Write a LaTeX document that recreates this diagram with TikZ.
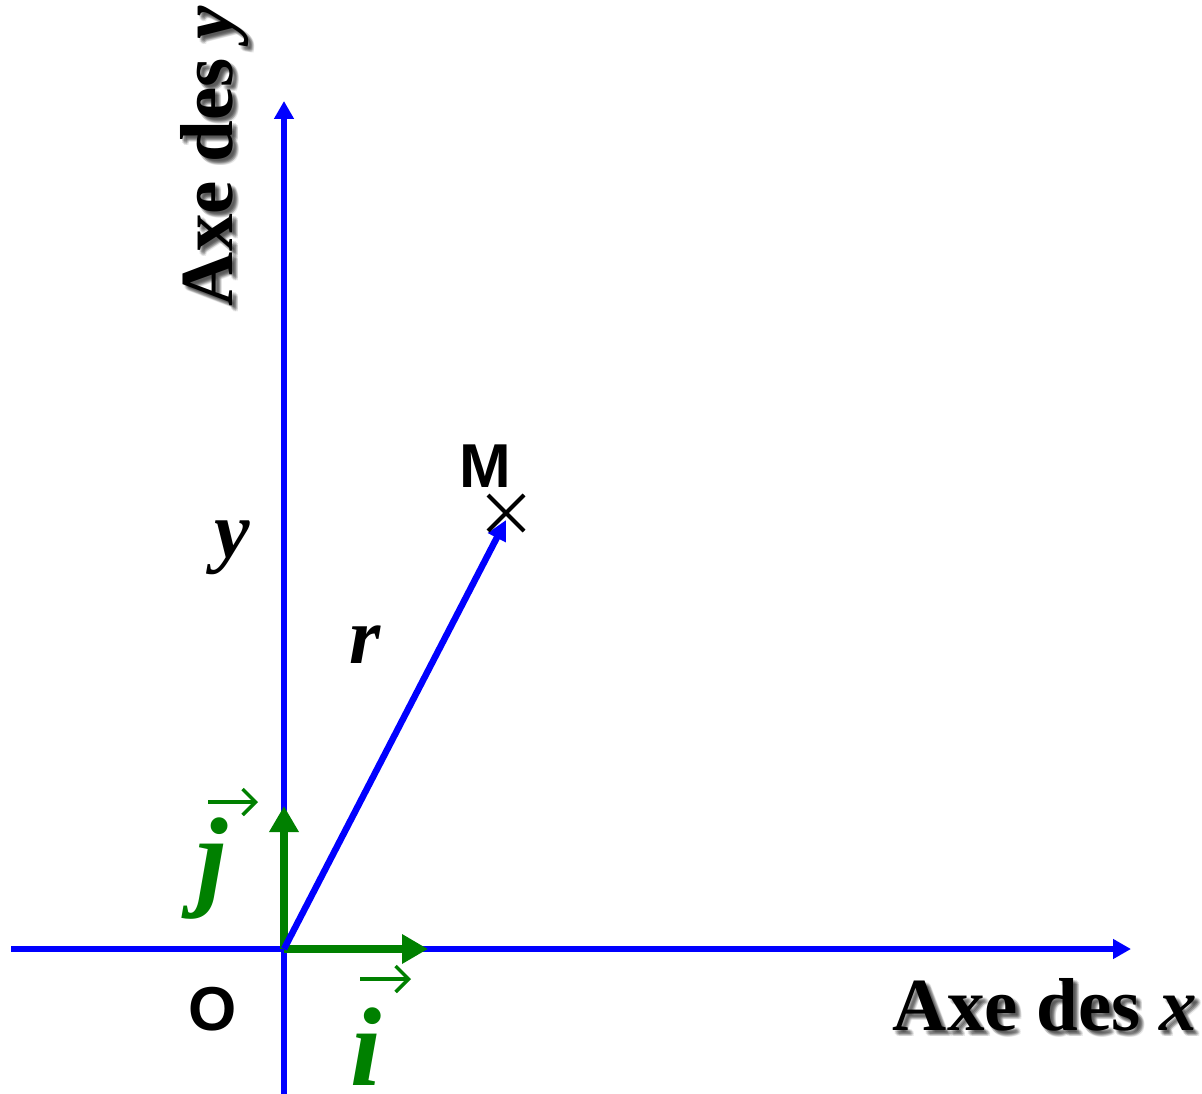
\documentclass[tikz,border=0pt]{standalone}
\usepackage{fontspec}
\setmainfont{Liberation Serif}
\newfontfamily\hsans{Liberation Sans}
\usetikzlibrary{arrows.meta,shapes.misc}
\definecolor{axblue}{RGB}{0,0,255}
\definecolor{vgreen}{RGB}{0,128,0}
\begin{document}
\begin{tikzpicture}[x=1pt,y=-1pt,
  axisline/.style={draw=axblue,line width=6.5pt,-{Triangle[length=18pt,width=19pt]}},
  rvec/.style={draw=axblue,line width=6.5pt,-{Triangle[length=20pt,width=19pt]}},
  unitvec/.style={draw=vgreen,line width=8pt,-{Triangle[length=26pt,width=28pt]}},
  vecbar/.style={draw=vgreen,line width=3.5pt,-{Straight Barb[length=13pt,width=26pt]}},
  title/.style={font=\fontsize{75}{90}\selectfont\bfseries, inner sep=0pt, anchor=base},
  titleshadow/.style={title, text=black, opacity=0.09},
  sanslbl/.style={font=\hsans\fontsize{62}{74}\selectfont\bfseries, inner sep=0pt, anchor=base},
  mathlbl/.style={font=\fontsize{80}{96}\selectfont\bfseries\itshape, inner sep=0pt, anchor=base},
  unitlbl/.style={font=\fontsize{112}{130}\selectfont\bfseries\itshape, inner sep=0pt, anchor=base, text=vgreen}
]
\useasboundingbox (0,0) rectangle (1202,1094);

% coordinates
\coordinate (O) at (284,949);
\coordinate (xs) at (11,949);
\coordinate (xe) at (1131,949);
\coordinate (ys) at (284,1094);
\coordinate (ye) at (284,101);
\coordinate (ie) at (428,949);
\coordinate (je) at (284,806);
\coordinate (re) at (506,520);

% axes
\draw[axisline] (xs) -- (xe);
\draw[axisline] (ys) -- (ye);

% unit vectors
\draw[unitvec] (O) -- (ie);
\draw[unitvec] (O) -- (je);

% position vector
\draw[rvec] (O) -- (re);

% point M
\node (Mx) [cross out, draw, line width=4pt, minimum size=32pt, inner sep=0pt] at (506,513) {};
\node (Mlbl) [sanslbl] at (485,487) {M};
\node (Olbl) [sanslbl] at (213,1030) {O};

% labels
\node (ylbl) [mathlbl] at (232,557) {y};
\node (rlbl) [mathlbl] at (365,663) {r};

% unit vector labels
\node (jlbl) [unitlbl] at (212,895) {j};
\coordinate (jas) at (208,802);
\coordinate (jae) at (258,802);
\draw[vecbar] (jas) -- (jae);
\node (ilbl) [unitlbl] at (366,1085) {i};
\coordinate (ias) at (360,979);
\coordinate (iae) at (411,979);
\draw[vecbar] (ias) -- (iae);

% axis titles with soft shadow
\foreach \dx/\dy [count=\k] in {2/2,3/3,4/4,5/5,6/6,3/5,5/3,4/6,6/4,2/4,4/2} {
  \node (xtitleS\k) [titleshadow] at (1045+\dx,1030+\dy) {Axe des \textit{x}};
  \node (ytitleS\k) [titleshadow, rotate=90] at (232+\dx,156+\dy) {Axe des \textit{y}};
}
\node (xtitle) [title] at (1045,1030) {Axe des \textit{x}};
\node (ytitle) [title, rotate=90] at (232,156) {Axe des \textit{y}};
\end{tikzpicture}
\end{document}
